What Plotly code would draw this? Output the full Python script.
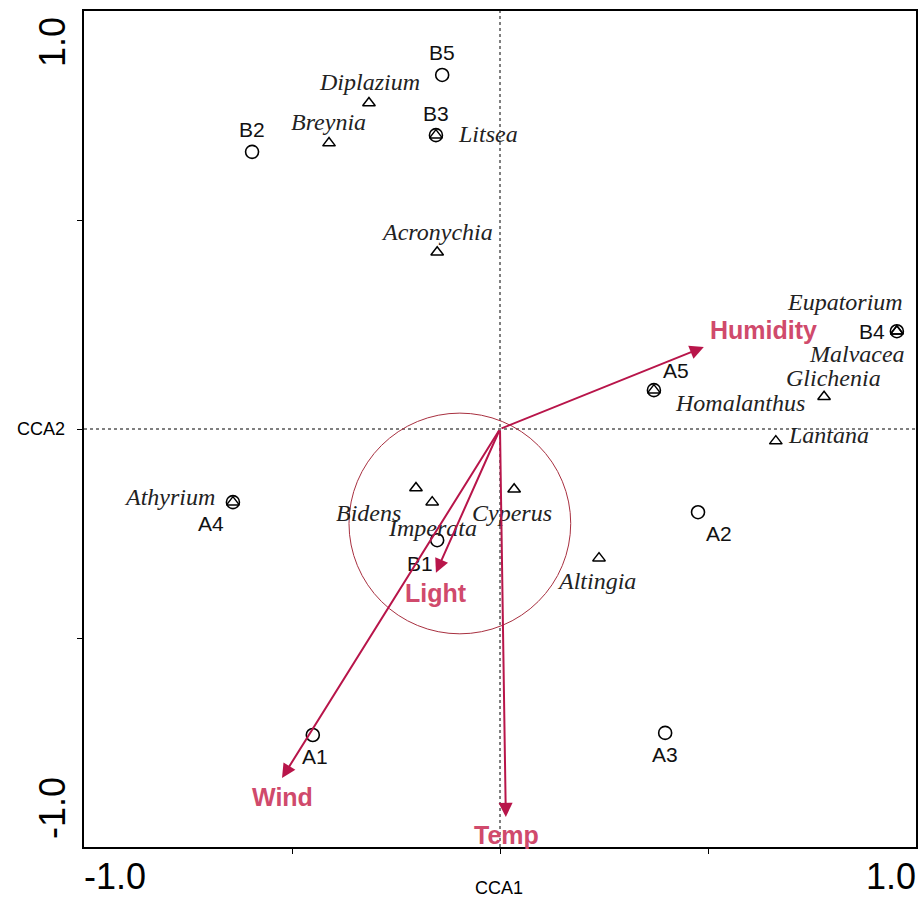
import plotly.graph_objects as go

# ---------------- data ----------------
site_names = ["B5", "B3", "B2", "B4", "A5", "A4", "B1", "A2", "A1", "A3"]
site_x = [-0.139, -0.154, -0.596, 0.954, 0.370, -0.642, -0.151, 0.476, -0.450, 0.397]
site_y = [0.847, 0.703, 0.663, 0.234, 0.093, -0.175, -0.266, -0.199, -0.732, -0.727]

species_names = ["Diplazium", "Breynia", "Litsea", "Acronychia", "Eupatorium", "Malvacea",
                 "Glichenia", "Homalanthus", "Lantana", "Athyrium", "Bidens", "Imperata",
                 "Cyperus", "Altingia"]
species_x = [-0.315, -0.411, -0.154, -0.151, 0.954, 0.954, 0.779, 0.370, 0.663, -0.642,
             -0.202, -0.163, 0.034, 0.238]
species_y = [0.780, 0.684, 0.703, 0.423, 0.234, 0.234, 0.077, 0.093, -0.029, -0.175,
             -0.141, -0.175, -0.144, -0.309]

env_names = ["Humidity", "Light", "Wind", "Temp"]
env_x = [0.490, -0.154, -0.524, 0.014]
env_y = [0.196, -0.344, -0.835, -0.928]

# ---------------- label offsets (pixels) ----------------
site_off = {"B5": (0, 22), "B3": (0, 22), "B2": (0, 22), "B4": (-25, 0), "A5": (22, 20),
            "A4": (-22, -21), "B1": (-17, -23), "A2": (21, -21), "A1": (2, -22), "A3": (0, -22)}
species_off = {"Diplazium": (1, 21), "Breynia": (-1, 21), "Litsea": (52, 1), "Acronychia": (0, 20),
               "Eupatorium": (-52, 29), "Malvacea": (-40, -23), "Glichenia": (9, 19),
               "Homalanthus": (86, -13), "Lantana": (53, 6), "Athyrium": (-63, 5),
               "Bidens": (-47, -25), "Imperata": (0, -26), "Cyperus": (-2, -24), "Altingia": (-3, -23)}
env_off = {"Humidity": (60, 17), "Light": (0, -20), "Wind": (0, -19), "Temp": (1, -18)}

ARROW = "#B8154A"
LABEL = "#D04A6C"
SANS = "Liberation Sans, Arial, sans-serif"
SERIF = "Liberation Serif, Times New Roman, serif"

fig = go.Figure()

fig.add_trace(go.Scatter(x=site_x, y=site_y, mode="markers", hoverinfo="skip",
                         marker=dict(symbol="circle-open", size=13, color="black",
                                     line=dict(width=1.6, color="black"))))
fig.add_trace(go.Scatter(x=species_x, y=species_y, mode="markers", hoverinfo="skip",
                         marker=dict(symbol="triangle-up-open", size=11, color="black",
                                     line=dict(width=1.5, color="black"))))

ann = []
for n, x, y in zip(site_names, site_x, site_y):
    dx, dy = site_off[n]
    ann.append(dict(x=x, y=y, text=n, showarrow=False, xshift=dx, yshift=dy,
                    xanchor="center", yanchor="middle",
                    font=dict(family=SANS, size=21, color="#111")))
for n, x, y in zip(species_names, species_x, species_y):
    dx, dy = species_off[n]
    ann.append(dict(x=x, y=y, text="<i>%s</i>" % n, showarrow=False, xshift=dx, yshift=dy,
                    xanchor="center", yanchor="middle",
                    font=dict(family=SERIF, size=24, color="#222")))
for n, x, y in zip(env_names, env_x, env_y):
    ann.append(dict(x=x, y=y, ax=0, ay=0, axref="x", ayref="y", xref="x", yref="y",
                    text="", showarrow=True, arrowhead=2, arrowsize=1.4, arrowwidth=2,
                    arrowcolor=ARROW))
    dx, dy = env_off[n]
    ann.append(dict(x=x, y=y, text="<b>%s</b>" % n, showarrow=False, xshift=dx, yshift=dy,
                    xanchor="center", yanchor="middle",
                    font=dict(family=SANS, size=25, color=LABEL)))

# axis end labels
def px(xp):
    return (xp - 84) / 834.0

def py(yp):
    return (847 - yp) / 836.0

def axlab(x, y, text, size, angle=0):
    return dict(xref="paper", yref="paper", x=px(x), y=py(y), text=text, textangle=angle,
                showarrow=False, xanchor="center", yanchor="middle",
                font=dict(family=SANS, size=size, color="black"))

ann += [
    axlab(52, 42, "1.0", 36, -90),
    axlab(52, 808, "-1.0", 36, -90),
    axlab(115, 876, "-1.0", 36),
    axlab(893, 876, "1.0", 36),
    axlab(500, 888, "CCA1", 18),
    axlab(41, 429, "CCA2", 18),
]

shapes = [
    dict(type="line", x0=0, x1=0, y0=-1, y1=1, xref="x", yref="y",
         line=dict(color="black", width=1, dash="dot")),
    dict(type="line", x0=-1, x1=1, y0=0, y1=0, xref="x", yref="y",
         line=dict(color="black", width=1, dash="dot")),
    dict(type="circle", x0=-0.363, x1=0.170, y0=-0.490, y1=0.038, xref="x", yref="y",
         line=dict(color="#A83040", width=1)),
]

fig.update_layout(
    width=919, height=902, margin=dict(l=84, r=1, t=11, b=55),
    paper_bgcolor="white", plot_bgcolor="white", showlegend=False,
    annotations=ann, shapes=shapes,
    xaxis=dict(range=[-1, 1], showgrid=False, zeroline=False, showline=True, linecolor="black",
               linewidth=2, mirror=True, ticks="outside", ticklen=5, tickcolor="black",
               tickvals=[-0.5, 0, 0.5], showticklabels=False),
    yaxis=dict(range=[-1, 1], showgrid=False, zeroline=False, showline=True, linecolor="black",
               linewidth=2, mirror=True, ticks="outside", ticklen=5, tickcolor="black",
               tickvals=[-0.5, 0, 0.5], showticklabels=False),
)

fig.write_html("out.html", config={"displayModeBar": False},
               post_script="document.body.style.margin='0px';")
